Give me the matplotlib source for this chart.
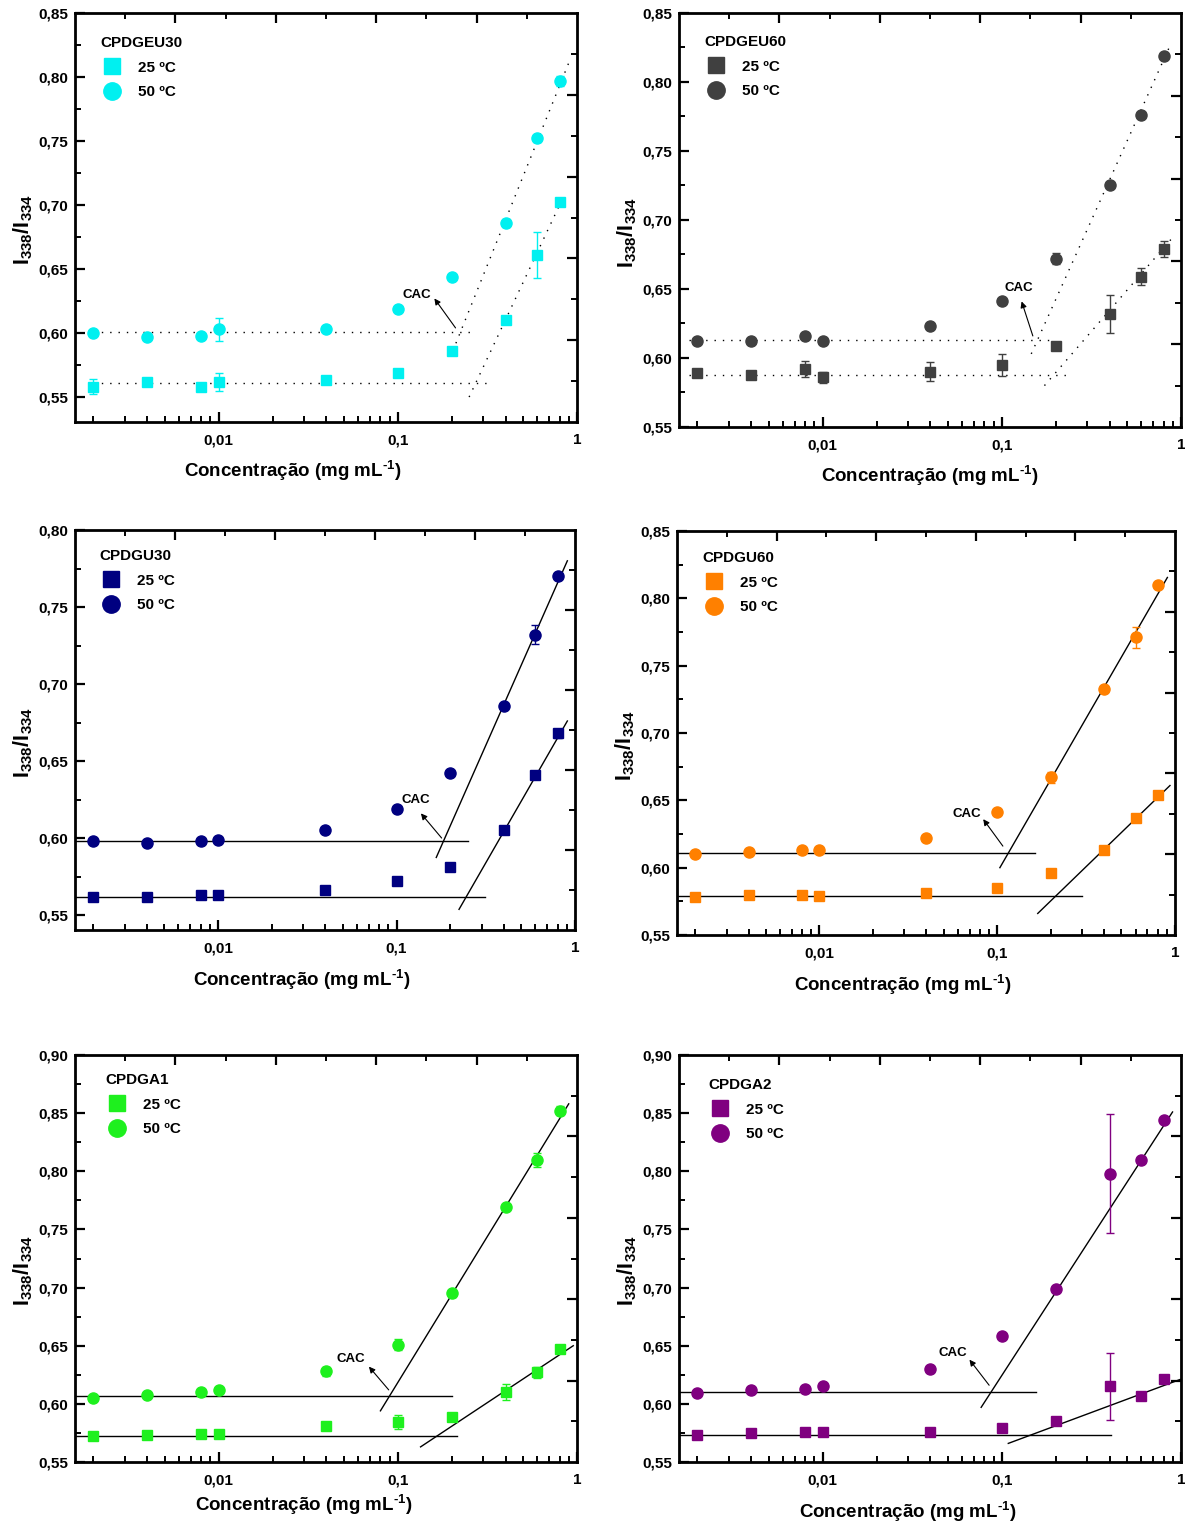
import matplotlib
matplotlib.use("Agg")
import matplotlib.pyplot as plt
from matplotlib.lines import Line2D
from matplotlib.ticker import MultipleLocator, FuncFormatter, LogLocator, NullFormatter, FixedLocator

plt.rcParams['font.family'] = ['Liberation Sans', 'DejaVu Sans']
plt.rcParams['font.weight'] = 'bold'
plt.rcParams['mathtext.fontset'] = 'custom'
plt.rcParams['mathtext.rm'] = 'Liberation Sans'
plt.rcParams['mathtext.bf'] = 'Liberation Sans:bold'
plt.rcParams['mathtext.it'] = 'Liberation Sans:italic'

# ---------------- data ----------------
conc = [0.002, 0.004, 0.008, 0.01, 0.04, 0.1, 0.2, 0.4, 0.6, 0.8]

# CPDGEU30
eu30_y25 = [0.558, 0.562, 0.558, 0.562, 0.563, 0.569, 0.586, 0.610, 0.661, 0.702]
eu30_e25 = [0.006, 0.002, 0.002, 0.007, 0.002, 0.002, 0.002, 0.003, 0.018, 0.003]
eu30_y50 = [0.600, 0.597, 0.598, 0.603, 0.603, 0.619, 0.644, 0.686, 0.752, 0.797]
eu30_e50 = [0.002, 0.001, 0.002, 0.009, 0.002, 0.002, 0.002, 0.003, 0.003, 0.004]
eu30_base50_x = [0.002, 0.27]
eu30_base50_y = [0.601, 0.601]
eu30_base25_x = [0.002, 0.34]
eu30_base25_y = [0.561, 0.561]
eu30_fit50_x = [0.211, 0.914]
eu30_fit50_y = [0.592, 0.8135]
eu30_fit25_x = [0.25, 0.857]
eu30_fit25_y = [0.55, 0.709]
eu30_cac_text = [0.128, 0.630]
eu30_cac_tail = [0.21, 0.604]
eu30_cac_head = [0.16, 0.627]

# CPDGEU60
eu60_y25 = [0.589, 0.588, 0.592, 0.586, 0.590, 0.595, 0.609, 0.632, 0.659, 0.679]
eu60_e25 = [0.002, 0.002, 0.006, 0.004, 0.007, 0.008, 0.002, 0.014, 0.006, 0.006]
eu60_y50 = [0.612, 0.612, 0.616, 0.612, 0.623, 0.641, 0.672, 0.725, 0.776, 0.819]
eu60_e50 = [0.002, 0.002, 0.002, 0.002, 0.002, 0.002, 0.004, 0.002, 0.002, 0.002]
eu60_base50_x = [0.0018, 0.186]
eu60_base50_y = [0.613, 0.613]
eu60_base25_x = [0.0018, 0.248]
eu60_base25_y = [0.588, 0.588]
eu60_fit50_x = [0.146, 0.88]
eu60_fit50_y = [0.603, 0.828]
eu60_fit25_x = [0.173, 0.88]
eu60_fit25_y = [0.580, 0.686]
eu60_cac_text = [0.124, 0.651]
eu60_cac_tail = [0.149, 0.616]
eu60_cac_head = [0.129, 0.641]

# CPDGU30
u30_y25 = [0.562, 0.562, 0.563, 0.563, 0.566, 0.572, 0.581, 0.605, 0.641, 0.668]
u30_e25 = [0.001, 0.001, 0.001, 0.001, 0.001, 0.001, 0.001, 0.002, 0.002, 0.003]
u30_y50 = [0.598, 0.597, 0.598, 0.599, 0.605, 0.619, 0.642, 0.686, 0.732, 0.770]
u30_e50 = [0.001, 0.001, 0.001, 0.001, 0.001, 0.001, 0.001, 0.002, 0.006, 0.002]
u30_base50_x = [0.0016, 0.25]
u30_base50_y = [0.598, 0.598]
u30_base25_x = [0.0016, 0.314]
u30_base25_y = [0.562, 0.562]
u30_fit50_x = [0.167, 0.906]
u30_fit50_y = [0.5874, 0.780]
u30_fit25_x = [0.224, 0.906]
u30_fit25_y = [0.5537, 0.676]
u30_cac_text = [0.1286, 0.625]
u30_cac_tail = [0.179, 0.600]
u30_cac_head = [0.137, 0.616]

# CPDGU60
u60_y25 = [0.578, 0.580, 0.580, 0.579, 0.581, 0.585, 0.596, 0.613, 0.637, 0.654]
u60_e25 = [0.001, 0.001, 0.001, 0.001, 0.001, 0.001, 0.001, 0.002, 0.003, 0.002]
u60_y50 = [0.610, 0.612, 0.613, 0.613, 0.622, 0.641, 0.667, 0.733, 0.771, 0.810]
u60_e50 = [0.001, 0.001, 0.001, 0.001, 0.001, 0.001, 0.004, 0.002, 0.008, 0.002]
u60_base50_x = [0.0016, 0.163]
u60_base50_y = [0.611, 0.611]
u60_base25_x = [0.0016, 0.298]
u60_base25_y = [0.579, 0.579]
u60_fit50_x = [0.1035, 0.906]
u60_fit50_y = [0.600, 0.8155]
u60_fit25_x = [0.169, 0.937]
u60_fit25_y = [0.566, 0.661]
u60_cac_text = [0.0676, 0.640]
u60_cac_tail = [0.1076, 0.616]
u60_cac_head = [0.0834, 0.636]

# CPDGA1
a1_y25 = [0.572, 0.573, 0.574, 0.574, 0.581, 0.584, 0.589, 0.610, 0.627, 0.647]
a1_e25 = [0.001, 0.001, 0.001, 0.001, 0.002, 0.006, 0.002, 0.007, 0.005, 0.003]
a1_y50 = [0.605, 0.608, 0.610, 0.612, 0.628, 0.651, 0.695, 0.769, 0.810, 0.852]
a1_e50 = [0.001, 0.001, 0.001, 0.001, 0.004, 0.005, 0.003, 0.002, 0.006, 0.004]
a1_base50_x = [0.0016, 0.20]
a1_base50_y = [0.607, 0.607]
a1_base25_x = [0.0016, 0.213]
a1_base25_y = [0.5726, 0.5726]
a1_fit50_x = [0.080, 0.899]
a1_fit50_y = [0.594, 0.858]
a1_fit25_x = [0.134, 0.953]
a1_fit25_y = [0.563, 0.650]
a1_cac_text = [0.055, 0.639]
a1_cac_tail = [0.089, 0.612]
a1_cac_head = [0.069, 0.632]

# CPDGA2
a2_y25 = [0.573, 0.575, 0.576, 0.576, 0.576, 0.579, 0.585, 0.615, 0.607, 0.621]
a2_e25 = [0.001, 0.001, 0.001, 0.001, 0.001, 0.001, 0.002, 0.029, 0.002, 0.002]
a2_y50 = [0.609, 0.612, 0.613, 0.615, 0.630, 0.658, 0.699, 0.798, 0.810, 0.844]
a2_e50 = [0.001, 0.001, 0.001, 0.001, 0.001, 0.001, 0.002, 0.051, 0.002, 0.002]
a2_base50_x = [0.0016, 0.155]
a2_base50_y = [0.610, 0.610]
a2_base25_x = [0.0016, 0.406]
a2_base25_y = [0.573, 0.573]
a2_fit50_x = [0.0767, 0.897]
a2_fit50_y = [0.597, 0.851]
a2_fit25_x = [0.1087, 0.99]
a2_fit25_y = [0.566, 0.621]
a2_cac_text = [0.0534, 0.644]
a2_cac_tail = [0.085, 0.616]
a2_cac_head = [0.066, 0.638]

names = ['CPDGEU30', 'CPDGEU60', 'CPDGU30', 'CPDGU60', 'CPDGA1', 'CPDGA2']
colors = ['#00F0F0', '#404040', '#000080', '#FF8000', '#1EF01E', '#800080']
ylims = [(0.5305, 0.85), (0.55, 0.85), (0.5403, 0.80), (0.55, 0.85), (0.55, 0.90), (0.55, 0.90)]
xlim = (0.00158, 1.0)
xtick_vals = [0.01, 0.1, 1]
xtick_labels = ['0,01', '0,1', '1']
legend_labels = ['25 ºC', '50 ºC']

# ---------------- layout (pixels) ----------------
W, H = 1185, 1525
fig = plt.figure(figsize=(W / 100, H / 100), dpi=100)

boxes = [(75, 13, 577, 422), (679, 13, 1181, 427),
         (75, 530, 575, 930), (677, 531, 1175, 935),
         (75, 1055, 577, 1462), (679, 1055, 1181, 1462)]
legend_offsets = [(25, 23), (25, 22), (24, 19), (25, 20), (30, 18), (29, 23)]
xlabel_centers = [(293, 471), (930, 476), (302, 980), (903, 985), (304, 1505), (908, 1512)]
ylabel_centers = [(23, 229), (627, 232), (23, 742), (625, 745), (23, 1270), (627, 1270)]

panels = [
    (eu30_y25, eu30_e25, eu30_y50, eu30_e50, eu30_base50_x, eu30_base50_y, eu30_base25_x, eu30_base25_y,
     eu30_fit50_x, eu30_fit50_y, eu30_fit25_x, eu30_fit25_y, eu30_cac_text, eu30_cac_tail, eu30_cac_head, ':'),
    (eu60_y25, eu60_e25, eu60_y50, eu60_e50, eu60_base50_x, eu60_base50_y, eu60_base25_x, eu60_base25_y,
     eu60_fit50_x, eu60_fit50_y, eu60_fit25_x, eu60_fit25_y, eu60_cac_text, eu60_cac_tail, eu60_cac_head, ':'),
    (u30_y25, u30_e25, u30_y50, u30_e50, u30_base50_x, u30_base50_y, u30_base25_x, u30_base25_y,
     u30_fit50_x, u30_fit50_y, u30_fit25_x, u30_fit25_y, u30_cac_text, u30_cac_tail, u30_cac_head, '-'),
    (u60_y25, u60_e25, u60_y50, u60_e50, u60_base50_x, u60_base50_y, u60_base25_x, u60_base25_y,
     u60_fit50_x, u60_fit50_y, u60_fit25_x, u60_fit25_y, u60_cac_text, u60_cac_tail, u60_cac_head, '-'),
    (a1_y25, a1_e25, a1_y50, a1_e50, a1_base50_x, a1_base50_y, a1_base25_x, a1_base25_y,
     a1_fit50_x, a1_fit50_y, a1_fit25_x, a1_fit25_y, a1_cac_text, a1_cac_tail, a1_cac_head, '-'),
    (a2_y25, a2_e25, a2_y50, a2_e50, a2_base50_x, a2_base50_y, a2_base25_x, a2_base25_y,
     a2_fit50_x, a2_fit50_y, a2_fit25_x, a2_fit25_y, a2_cac_text, a2_cac_tail, a2_cac_head, '-'),
]

comma = FuncFormatter(lambda v, p: f'{v:.2f}'.replace('.', ','))

for i, (box, pdata) in enumerate(zip(boxes, panels)):
    (y25, e25, y50, e50, b50x, b50y, b25x, b25y, f50x, f50y, f25x, f25y,
     cac_t, cac_tail, cac_head, style) = pdata
    l, t, r, b = box
    w, h = r - l, b - t
    rect = [l / W, 1 - b / H, w / W, h / H]
    ax = fig.add_axes(rect)
    c = colors[i]

    if style == ':':
        ls = dict(color='black', lw=1.0, linestyle=(0, (1, 5)))
    else:
        ls = dict(color='black', lw=1.0, linestyle='-')
    ax.plot(b50x, b50y, **ls, zorder=2)
    ax.plot(b25x, b25y, **ls, zorder=2)
    ax.plot(f50x, f50y, **ls, zorder=2)
    ax.plot(f25x, f25y, **ls, zorder=2)

    ax.errorbar(conc, y25, yerr=e25, fmt='s', ms=7, color=c, ecolor=c,
                elinewidth=1.0, capsize=3, capthick=1.0, zorder=3)
    ax.errorbar(conc, y50, yerr=e50, fmt='o', ms=8, color=c, ecolor=c,
                elinewidth=1.0, capsize=3, capthick=1.0, zorder=3)

    ax.text(cac_t[0], cac_t[1], 'CAC', fontsize=9.5, fontweight='bold',
            ha='center', va='center', zorder=4)
    ax.annotate('', xy=(cac_head[0], cac_head[1]), xytext=(cac_tail[0], cac_tail[1]),
                arrowprops=dict(arrowstyle='-|>', color='black', lw=0.8,
                                mutation_scale=9, shrinkA=0, shrinkB=0), zorder=4)

    ax.set_xscale('log')
    ax.set_xlim(*xlim)
    ax.set_ylim(*ylims[i])
    ax.xaxis.set_major_locator(FixedLocator(xtick_vals))
    ax.set_xticklabels(xtick_labels)
    ax.xaxis.set_minor_locator(LogLocator(base=10, subs=range(2, 10), numticks=20))
    ax.xaxis.set_minor_formatter(NullFormatter())
    ax.yaxis.set_major_locator(MultipleLocator(0.05))
    ax.yaxis.set_minor_locator(MultipleLocator(0.025))
    ax.yaxis.set_major_formatter(comma)
    ax.tick_params(which='major', direction='in', length=7, width=1.6,
                   labelsize=11, top=False, right=False, pad=5)
    ax.tick_params(axis='x', which='major', pad=8)
    ax.tick_params(which='minor', direction='in', length=4, width=1.4,
                   top=False, right=False)
    for lab in ax.get_xticklabels() + ax.get_yticklabels():
        lab.set_fontweight('bold')
    for sp in ax.spines.values():
        sp.set_linewidth(2.0)

    ax.set_xlabel(r'Concentração (mg mL$^{\text{-1}}$)', fontsize=13.5, fontweight='bold')
    xc, yc = xlabel_centers[i]
    ax.xaxis.set_label_coords((xc - l) / w, (b - yc) / h)
    ax.xaxis.label.set_verticalalignment('center')
    ax.set_ylabel(r'$\mathbf{I_{338}/I_{334}}$', fontsize=15.5)
    yxc, yyc = ylabel_centers[i]
    ax.yaxis.set_label_coords((yxc - l) / w, (b - yyc) / h)
    ax.yaxis.label.set_verticalalignment('center')

    handles = [Line2D([], [], marker='s', ls='none', color=c, ms=12),
               Line2D([], [], marker='o', ls='none', color=c, ms=12.5)]
    lx, ly = legend_offsets[i]
    ax.legend(handles, legend_labels, title=names[i], loc='upper left',
              bbox_to_anchor=(lx / w, 1 - ly / h),
              frameon=False, borderpad=0, borderaxespad=0,
              prop={'weight': 'bold', 'size': 11},
              title_fontproperties={'weight': 'bold', 'size': 11},
              handlelength=1.57, handletextpad=0.9, labelspacing=0.7,
              alignment='left')

    # top / right ticks (independent 0..1 scale)
    ov = fig.add_axes(rect, facecolor='none')
    ov.set_xlim(0, 1)
    ov.set_ylim(0, 1)
    for sp in ov.spines.values():
        sp.set_visible(False)
    ov.xaxis.tick_top()
    ov.yaxis.tick_right()
    ov.xaxis.set_major_locator(FixedLocator([0.2, 0.4, 0.6, 0.8]))
    ov.xaxis.set_minor_locator(FixedLocator([0.1, 0.3, 0.5, 0.7, 0.9]))
    ov.yaxis.set_major_locator(FixedLocator([0.2, 0.4, 0.6, 0.8]))
    ov.yaxis.set_minor_locator(FixedLocator([0.1, 0.3, 0.5, 0.7, 0.9]))
    ov.tick_params(which='major', direction='in', length=7, width=1.6,
                   labeltop=False, labelright=False, labelbottom=False, labelleft=False)
    ov.tick_params(which='minor', direction='in', length=4, width=1.4)

fig.savefig('out.png', dpi=100)
